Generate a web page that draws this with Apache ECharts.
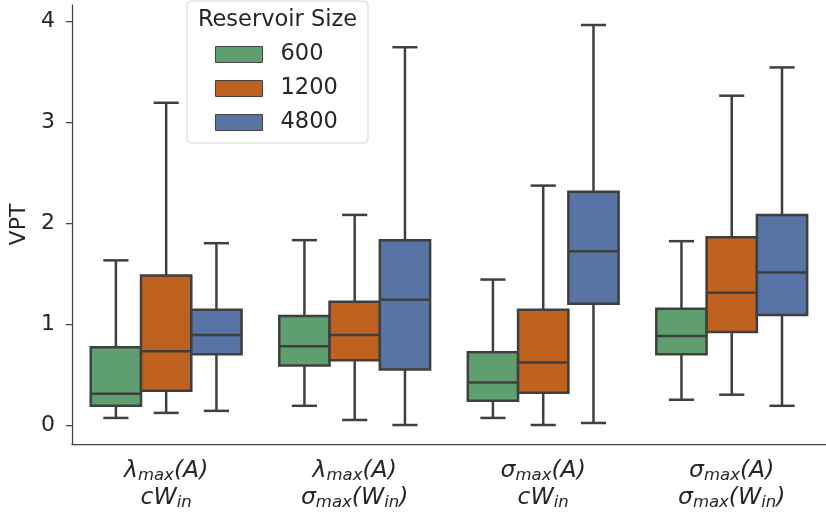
<!DOCTYPE html>
<html>
<head>
<meta charset="utf-8">
<script src="https://cdn.jsdelivr.net/npm/echarts@6/dist/echarts.min.js"></script>
<style>
  html, body { margin: 0; padding: 0; background: #fff; }
  #chart { width: 826px; height: 514px; }
</style>
</head>
<body>
<div id="chart"></div>
<script>
// x tick labels (rich text: italic math with subscripts)
var groupLabels = [
  '{i|λ}{s|max}{i|(A)}\n{i|cW}{s|in}',
  '{i|λ}{s|max}{i|(A)}\n{i|σ}{s|max}{i|(W}{s|in}{i|)}',
  '{i|σ}{s|max}{i|(A)}\n{i|cW}{s|in}',
  '{i|σ}{s|max}{i|(A)}\n{i|σ}{s|max}{i|(W}{s|in}{i|)}'
];
var hueNames = ['600', '1200', '4800'];
var hueColors = ['#5f9e6e', '#c0621f', '#5874a4'];
var yTicks = [0, 1, 2, 3, 4];

// [min, q1, median, q3, max] for each group
var vpt600 = [
  [0.07, 0.19, 0.31, 0.77, 1.63],
  [0.19, 0.59, 0.78, 1.08, 1.83],
  [0.07, 0.24, 0.42, 0.72, 1.44],
  [0.25, 0.70, 0.88, 1.15, 1.82]
];
var vpt1200 = [
  [0.12, 0.34, 0.73, 1.48, 3.19],
  [0.05, 0.64, 0.89, 1.22, 2.08],
  [0.00, 0.32, 0.62, 1.14, 2.37],
  [0.30, 0.92, 1.31, 1.86, 3.26]
];
var vpt4800 = [
  [0.14, 0.70, 0.89, 1.14, 1.80],
  [0.00, 0.55, 1.24, 1.83, 3.74],
  [0.02, 1.20, 1.72, 2.31, 3.96],
  [0.19, 1.09, 1.51, 2.08, 3.54]
];
var hueData = [vpt600, vpt1200, vpt4800];

var edge = '#3f3f3f';
var textColor = '#262626';
var font = 'DejaVu Sans';

// seaborn-like box: full-width box, half-width caps
function boxRenderer(hueIdx) {
  return function (params, api) {
    var band = api.size([1, 0])[0];
    var w = band * 0.8 / hueNames.length;
    var cx = api.coord([api.value(0), 0])[0] + (hueIdx - 1) * w;
    var y = [1, 2, 3, 4, 5].map(function (i) {
      return api.coord([api.value(0), api.value(i)])[1];
    });
    var half = w / 2, cap = w / 4;
    var ls = { stroke: edge, lineWidth: 2.5 };
    return {
      type: 'group',
      children: [
        { type: 'line', shape: { x1: cx, y1: y[0], x2: cx, y2: y[1] }, style: ls },
        { type: 'line', shape: { x1: cx, y1: y[3], x2: cx, y2: y[4] }, style: ls },
        { type: 'line', shape: { x1: cx - cap, y1: y[0], x2: cx + cap, y2: y[0] }, style: ls },
        { type: 'line', shape: { x1: cx - cap, y1: y[4], x2: cx + cap, y2: y[4] }, style: ls },
        { type: 'rect', shape: { x: cx - half, y: y[3], width: w, height: y[1] - y[3] },
          style: { fill: api.visual('color'), stroke: edge, lineWidth: 2.5 } },
        { type: 'line', shape: { x1: cx - half, y1: y[2], x2: cx + half, y2: y[2] }, style: ls }
      ]
    };
  };
}

var series = hueNames.map(function (name, h) {
  return {
    name: name,
    type: 'custom',
    renderItem: boxRenderer(h),
    itemStyle: { color: hueColors[h] },
    encode: { x: 0, y: [1, 2, 3, 4, 5] },
    data: hueData[h].map(function (d, g) { return [g].concat(d); })
  };
});

var option = {
  animation: false,
  textStyle: { fontFamily: font },
  grid: { left: 71, top: 5, width: 760, height: 439 },
  xAxis: {
    type: 'category',
    data: groupLabels,
    axisLine: { onZero: false, lineStyle: { color: edge, width: 1.25 } },
    axisTick: { alignWithLabel: true, interval: 0, length: 7, lineStyle: { color: edge, width: 1.25 } },
    axisLabel: {
      interval: 0,
      margin: 13,
      color: textColor,
      rich: {
        i: { fontSize: 23.5, lineHeight: 27, fontStyle: 'italic', color: textColor, fontFamily: font },
        s: { fontSize: 16.5, lineHeight: 17, fontStyle: 'italic', verticalAlign: 'bottom', color: textColor, fontFamily: font }
      }
    }
  },
  yAxis: {
    type: 'value',
    min: -0.188,
    max: 4.158,
    name: 'VPT',
    nameLocation: 'middle',
    nameRotate: 90,
    nameGap: 40,
    nameTextStyle: { fontSize: 22, color: textColor },
    splitLine: { show: false },
    axisLine: { show: true, lineStyle: { color: edge, width: 1.25 } },
    axisTick: { show: true, length: 6, customValues: yTicks, lineStyle: { color: edge, width: 1.25 } },
    axisLabel: { fontSize: 22, color: textColor, margin: 17, customValues: yTicks }
  },
  legend: {
    data: hueNames,
    orient: 'vertical',
    left: 210,
    top: 38,
    icon: 'rect',
    itemWidth: 47,
    itemHeight: 16,
    itemGap: 11,
    selectedMode: false,
    z: 11,
    itemStyle: { borderColor: '#444', borderWidth: 1 },
    textStyle: { fontSize: 22.5, lineHeight: 20, color: textColor, padding: [0, 0, 0, 13] }
  },
  graphic: [
    {
      type: 'rect', z: 10,
      shape: { x: 187, y: 1, width: 181, height: 142, r: 4 },
      style: { fill: 'rgba(255,255,255,0.8)', stroke: '#d4d4d4', lineWidth: 1 }
    },
    {
      type: 'text', z: 11,
      x: 277.5, y: 20,
      style: { text: 'Reservoir Size', fontSize: 22.5, fontFamily: font, fill: textColor, align: 'center', verticalAlign: 'middle' }
    }
  ],
  series: series
};

var myChart = echarts.init(document.getElementById('chart'));
myChart.setOption(option);
</script>
</body>
</html>
